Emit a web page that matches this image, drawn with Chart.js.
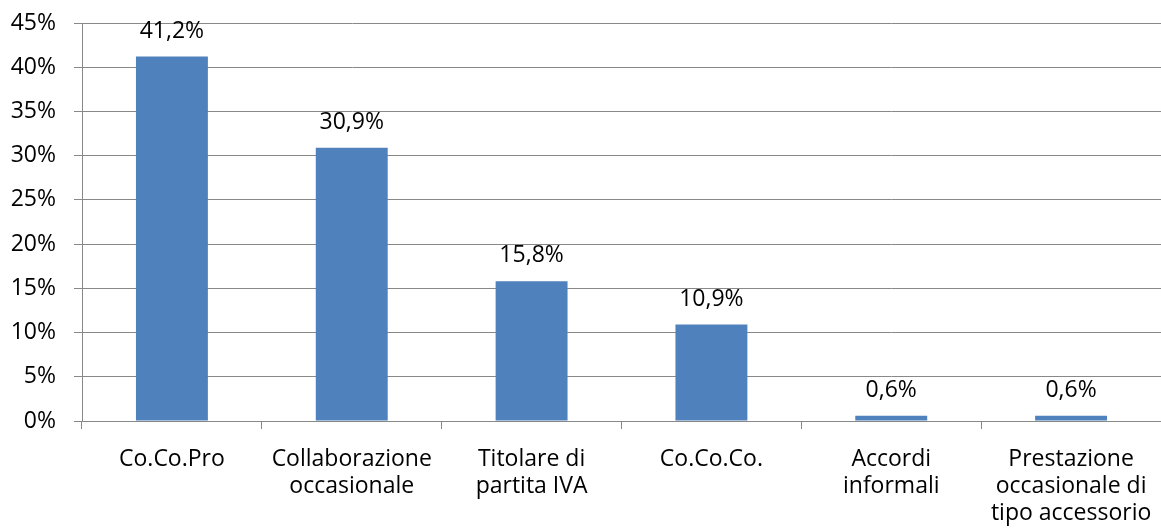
<!DOCTYPE html>
<html>
<head>
<meta charset="utf-8">
<script src="https://cdn.jsdelivr.net/npm/chart.js@4.4.1/dist/chart.umd.min.js"></script>
<style>
  html, body { margin: 0; padding: 0; background: #ffffff; }
  #wrap { width: 1161px; height: 531px; }
</style>
</head>
<body>
<div id="wrap"><canvas id="chartContratti"></canvas></div>
<script>
// dati
const categorie = [
  ["Co.Co.Pro"],
  ["Collaborazione", "occasionale"],
  ["Titolare di", "partita IVA"],
  ["Co.Co.Co."],
  ["Accordi", "informali"],
  ["Prestazione", "occasionale di", "tipo accessorio"]
];
const percentuali = [41.2, 30.9, 15.8, 10.9, 0.6, 0.6];
const tickY = [0, 5, 10, 15, 20, 25, 30, 35, 40, 45];

const fontFamily = "'Open Sans', sans-serif";
const barColor = "#4F81BD";
const gridColor = "#888888";

// etichette sopra le barre
const etichettePlugin = {
  id: "etichette",
  afterDatasetsDraw(chart) {
    const ctx = chart.ctx;
    const meta = chart.getDatasetMeta(0);
    ctx.save();
    ctx.font = "23px " + fontFamily;
    ctx.fillStyle = "#000000";
    ctx.textAlign = "center";
    ctx.textBaseline = "alphabetic";
    meta.data.forEach((bar, i) => {
      const txt = percentuali[i].toFixed(1).replace(".", ",") + "%";
      ctx.fillText(txt, bar.x, bar.y - 19);
    });
    ctx.restore();
  }
};

new Chart(document.getElementById("chartContratti").getContext("2d"), {
  type: "bar",
  data: {
    labels: categorie,
    datasets: [
      {
        data: percentuali,
        backgroundColor: barColor,
        borderWidth: 0,
        barPercentage: 0.4,
        categoryPercentage: 1.0,
      },
    ],
  },
  options: {
    responsive: true,
    maintainAspectRatio: false,
    animation: false,
    layout: { padding: { top: 23, left: 0, right: 0, bottom: 0 } },
    plugins: {
      legend: { display: false },
      tooltip: { enabled: false },
    },
    scales: {
      y: {
        min: 0,
        max: 45,
        afterFit: (s) => {
          s.width = 82;
          s.paddingTop = 0;
          s.paddingBottom = 0;
        },
        afterBuildTicks: (s) => { s.ticks = tickY.map((v) => ({ value: v })); },
        border: { color: gridColor, width: 1 },
        grid: { color: gridColor, tickLength: 8, tickColor: gridColor },
        ticks: {
          color: "#000000",
          padding: 18,
          font: { family: fontFamily, size: 23 },
          callback: (v) => v + "%",
        },
      },
      x: {
        afterFit: (s) => {
          s.height = 110;
          s.paddingLeft = 0;
          s.paddingRight = 0;
        },
        border: { color: gridColor, width: 1 },
        grid: {
          offset: true,
          drawOnChartArea: false,
          tickLength: 8,
          tickColor: gridColor,
        },
        ticks: {
          color: "#000000",
          padding: 17,
          maxRotation: 0,
          autoSkip: false,
          font: { family: fontFamily, size: 23, lineHeight: 1.17 },
        },
      },
    },
  },
  plugins: [etichettePlugin],
});
</script>
</body>
</html>
